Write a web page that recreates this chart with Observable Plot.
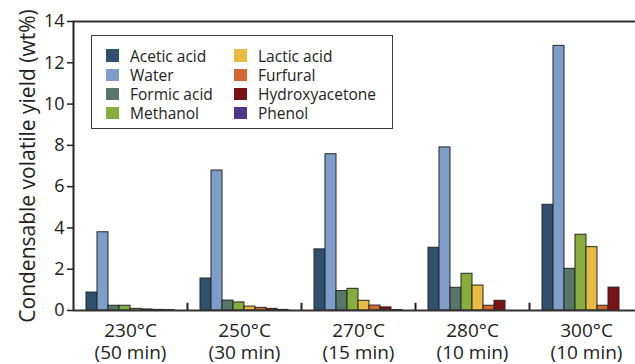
<!DOCTYPE html>
<html>
<head>
<meta charset="utf-8">
<script src="https://cdn.jsdelivr.net/npm/d3@7"></script>
<script src="https://cdn.jsdelivr.net/npm/@observablehq/plot@0.6"></script>
<style>
  body { margin: 0; background: #fff; }
  #wrap { position: relative; width: 635px; height: 364px; overflow: hidden; font-family: "Open Sans", sans-serif; color: #222; }
  #legend { position: absolute; left: 91px; top: 35px; width: 302px; height: 94px; box-sizing: border-box;
    border: 1.5px solid #3a3a3a; background: #fff; display: grid; grid-template-columns: 128px 1fr;
    grid-template-rows: repeat(4, 19.2px); grid-auto-flow: column; padding: 10px 0 0 14px; font-size: 15.5px; }
  .item { display: flex; align-items: center; white-space: nowrap; }
  .sw { width: 12.5px; height: 12.5px; margin-right: 11.5px; flex: none; }
</style>
</head>
<body>
<div id="wrap"><div id="legend"></div></div>
<script>
const temps = ["230°C", "250°C", "270°C", "280°C", "300°C"];
const times = ["(50 min)", "(30 min)", "(15 min)", "(10 min)", "(10 min)"];
const compounds = ["Acetic acid", "Water", "Formic acid", "Methanol", "Lactic acid", "Furfural", "Hydroxyacetone", "Phenol"];
const colors = ["#30506f", "#7f9dc9", "#56776a", "#87ad3d", "#e9bb42", "#d3692f", "#7b1115", "#4e3587"];
const yTicks = [0, 2, 4, 6, 8, 10, 12, 14];

const acetic = [0.87, 1.55, 2.96, 3.04, 5.12];
const water = [3.79, 6.78, 7.57, 7.90, 12.82];
const formic = [0.23, 0.48, 0.94, 1.10, 2.02];
const methanol = [0.23, 0.39, 1.05, 1.78, 3.67];
const lactic = [0.08, 0.19, 0.47, 1.21, 3.07];
const furfural = [0.05, 0.13, 0.24, 0.23, 0.23];
const hydroxyacetone = [0.03, 0.08, 0.15, 0.47, 1.11];
const phenol = [0.02, 0.03, 0.02, 0, 0];

const series = [acetic, water, formic, methanol, lactic, furfural, hydroxyacetone, phenol];
const groups = temps.map((t, i) => t + "\n" + times[i]);
const rows = [];
groups.forEach((g, gi) => compounds.forEach((c, ci) => rows.push({group: g, compound: c, value: series[ci][gi]})));

const chart = Plot.plot({
  width: 635,
  height: 364,
  marginLeft: 73,
  marginRight: -8,
  marginTop: 21,
  marginBottom: 54,
  style: {fontFamily: "Open Sans, sans-serif", color: "#222", background: "transparent"},
  fx: {domain: groups, padding: 0, axis: null},
  x: {domain: compounds, paddingInner: 0, paddingOuter: 13 / 11, axis: null},
  y: {domain: [0, 14]},
  color: {domain: compounds, range: colors},
  marks: [
    Plot.barY(rows, {fx: "group", x: "compound", y: "value", fill: "compound", stroke: "#262626", strokeWidth: 1}),
    Plot.ruleY([0, 14], {stroke: "#333", strokeWidth: 2}),
    Plot.ruleX(groups, {fx: d => d, x: () => compounds[0], dx: -18.5, y1: 0, y2: (d, i) => (i === 0 ? 14 : 0.35), stroke: "#222", strokeWidth: 2}),
    Plot.axisY({ticks: yTicks, tickSize: 6, tickPadding: 3, fontSize: 18, strokeWidth: 1.5, label: null}),
    Plot.axisY({ticks: [], tickSize: 0, fontSize: 21,
      label: "Condensable volatile yield (wt%)", labelAnchor: "center", labelOffset: 53, labelArrow: "none"}),
    Plot.text(groups, {fx: d => d, text: d => d, frameAnchor: "bottom", lineAnchor: "top", dy: 11, fontSize: 19, lineHeight: 1.16, fill: "#222"})
  ]
});
document.getElementById("wrap").prepend(chart);

const legend = d3.select("#legend");
compounds.forEach((c, i) => {
  const it = legend.append("div").attr("class", "item");
  it.append("div").attr("class", "sw").style("background", colors[i]);
  it.append("span").text(c);
});
</script>
</body>
</html>
